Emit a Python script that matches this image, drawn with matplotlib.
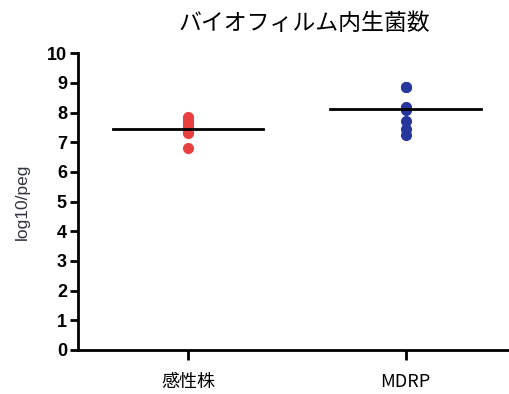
import numpy as np
import matplotlib
matplotlib.use("Agg")
import matplotlib.pyplot as plt

plt.rcParams['font.family'] = ['Noto Sans CJK JP', 'DejaVu Sans']

groups = ['感性株', 'MDRP']
sensitive = [7.85, 7.75, 7.65, 7.55, 7.45, 7.4, 7.35, 7.3, 6.8]
mdrp = [8.87, 8.85, 8.2, 8.15, 8.1, 7.7, 7.45, 7.25]
colors = ['#e8403f', '#27369a']

fig = plt.figure(figsize=(5.1, 3.94), dpi=100)
ax = fig.add_axes([0.153, 0.112, 0.847, 0.753])

for i, vals in enumerate([sensitive, mdrp]):
    ax.plot([i] * len(vals), vals, 'o', color=colors[i], ms=7, mec=colors[i], zorder=2)
    ax.plot([i - 0.345, i + 0.345], [np.median(vals)] * 2, color='black', lw=2, zorder=3)

ax.set_xlim(-0.505, 1.48)
ax.set_ylim(0, 10)
ax.set_yticks(range(0, 11))
ax.set_yticklabels([str(v) for v in range(0, 11)], fontfamily='Liberation Sans',
                   fontweight='bold', fontsize=13)
ax.set_xticks([0, 1])
ax.set_xticklabels(groups, fontsize=13)
ax.tick_params(axis='y', length=6, width=2, pad=2)
ax.tick_params(axis='x', length=7, width=2, pad=10)
for s in ['top', 'right']:
    ax.spines[s].set_visible(False)
for s in ['left', 'bottom']:
    ax.spines[s].set_linewidth(2)

ax.set_ylabel('log10/peg', fontsize=12.5, color='#333340', fontfamily='Liberation Sans', labelpad=12)
ax.set_title('バイオフィルム内生菌数', fontsize=16.5, x=0.525, y=1.0, pad=17)

fig.savefig('out.png', dpi=100)
